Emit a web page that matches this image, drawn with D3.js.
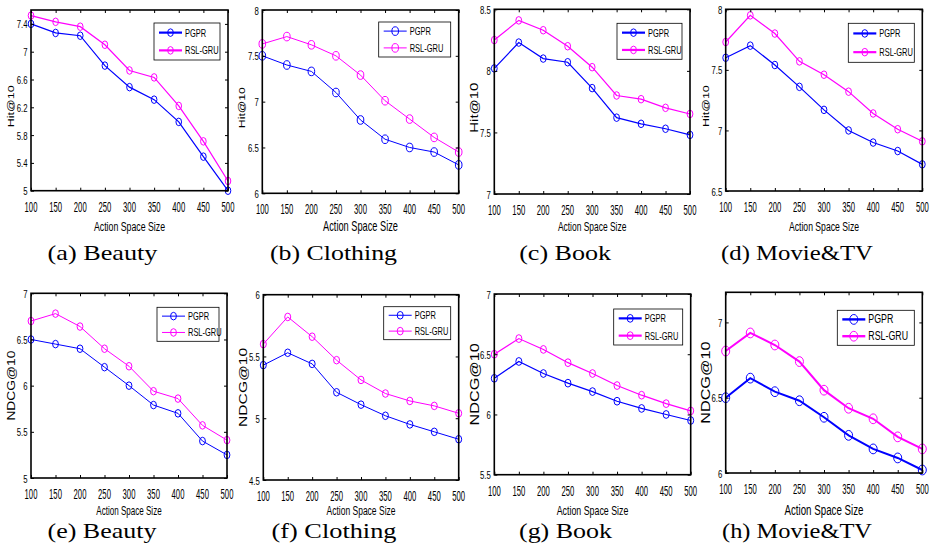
<!DOCTYPE html>
<html>
<head>
<meta charset="utf-8">
<script src="https://cdn.jsdelivr.net/npm/d3@7"></script>
<style>
  html, body { margin: 0; padding: 0; background: #fff; }
  svg { display: block; }
  text { font-family: "Liberation Sans", Arial, sans-serif; fill: #000; }
  .cap { font-family: "Liberation Serif", "DejaVu Serif", serif; }
</style>
</head>
<body>
<div id="chart"></div>
<script>
// ---- data ----
const sizes = [100, 150, 200, 250, 300, 350, 400, 450, 500];
const seriesNames = ['PGPR', 'RSL-GRU'];

const hitBeautyPGPR   = [7.40, 7.27, 7.23, 6.80, 6.49, 6.31, 5.99, 5.49, 5.00];
const hitBeautyRSL    = [7.52, 7.43, 7.36, 7.10, 6.73, 6.63, 6.22, 5.71, 5.14];
const hitClothingPGPR = [7.50, 7.40, 7.33, 7.10, 6.80, 6.59, 6.50, 6.45, 6.31];
const hitClothingRSL  = [7.63, 7.71, 7.62, 7.50, 7.29, 7.01, 6.81, 6.61, 6.45];
const hitBookPGPR     = [8.02, 8.23, 8.10, 8.07, 7.86, 7.62, 7.57, 7.53, 7.48];
const hitBookRSL      = [8.25, 8.41, 8.33, 8.20, 8.03, 7.80, 7.77, 7.70, 7.65];
const hitMoviePGPR    = [7.60, 7.70, 7.54, 7.36, 7.17, 7.00, 6.90, 6.83, 6.72];
const hitMovieRSL     = [7.73, 7.95, 7.80, 7.57, 7.46, 7.32, 7.14, 7.01, 6.91];

const ndcgBeautyPGPR   = [6.50, 6.45, 6.40, 6.20, 6.00, 5.79, 5.70, 5.40, 5.25];
const ndcgBeautyRSL    = [6.70, 6.78, 6.64, 6.40, 6.21, 5.94, 5.86, 5.57, 5.41];
const ndcgClothingPGPR = [5.43, 5.53, 5.44, 5.21, 5.11, 5.02, 4.95, 4.89, 4.83];
const ndcgClothingRSL  = [5.60, 5.82, 5.66, 5.47, 5.31, 5.20, 5.14, 5.10, 5.04];
const ndcgBookPGPR     = [6.30, 6.44, 6.34, 6.26, 6.19, 6.11, 6.05, 6.00, 5.95];
const ndcgBookRSL      = [6.50, 6.63, 6.54, 6.43, 6.34, 6.24, 6.16, 6.09, 6.03];
const ndcgMoviePGPR    = [6.50, 6.63, 6.54, 6.48, 6.37, 6.25, 6.16, 6.10, 6.02];
const ndcgMovieRSL     = [6.81, 6.93, 6.85, 6.74, 6.55, 6.43, 6.36, 6.24, 6.16];

// y limits and tick labels per panel
const yDomains = [[5, 7.6], [6, 8], [7, 8.5], [6.5, 8], [5, 7], [4.5, 6], [5.5, 7], [6, 7.2]];
const yTicks = [
  [5, 5.4, 5.8, 6.2, 6.6, 7, 7.4],
  [6, 6.5, 7, 7.5, 8],
  [7, 7.5, 8, 8.5],
  [6.5, 7, 7.5, 8],
  [5, 5.5, 6, 6.5, 7],
  [4.5, 5, 5.5, 6],
  [5.5, 6, 6.5, 7],
  [6, 6.5, 7]
];
const captions = ['(a)  Beauty', '(b)  Clothing', '(c)  Book', '(d)  Movie&TV',
                  '(e)  Beauty', '(f)  Clothing', '(g)  Book', '(h)  Movie&TV'];
const yLabels = ['Hit@10', 'Hit@10', 'Hit@10', 'Hit@10', 'NDCG@10', 'NDCG@10', 'NDCG@10', 'NDCG@10'];
const xLabel = 'Action Space Size';

const panelSeries = [
  [hitBeautyPGPR, hitBeautyRSL], [hitClothingPGPR, hitClothingRSL],
  [hitBookPGPR, hitBookRSL], [hitMoviePGPR, hitMovieRSL],
  [ndcgBeautyPGPR, ndcgBeautyRSL], [ndcgClothingPGPR, ndcgClothingRSL],
  [ndcgBookPGPR, ndcgBookRSL], [ndcgMoviePGPR, ndcgMovieRSL]
];

const boxes = [
  [31, 10, 228, 190.7], [262.3, 10, 458.7, 193.3], [494.3, 9.3, 690, 194], [725.7, 9.3, 922.3, 191],
  [31, 293.3, 227, 478], [263.3, 294.7, 458.7, 480], [494.3, 294, 690.7, 474.7], [725.7, 292.3, 922.3, 473]
];
// per panel: ylabel size, data line width, legend line width, marker rx/ry, legend box, xlabel size, caption width
const styles = [
  { yl: 12.5, lw: 1.2, llw: 2.2, rx: 2.8, ry: 3.8, legW: 66, legH: 37, legTop: 13, xl: 13.5, capW: 110 },
  { yl: 12.3, lw: 1.0, llw: 1.0, rx: 3.3, ry: 4.3, legW: 72, legH: 35, legTop: 12, xl: 14.2, capW: 127 },
  { yl: 15.0, lw: 1.2, llw: 2.2, rx: 2.9, ry: 3.8, legW: 65, legH: 36, legTop: 14, xl: 13, capW: 92 },
  { yl: 12.5, lw: 1.2, llw: 2.2, rx: 2.9, ry: 3.8, legW: 66, legH: 39, legTop: 14, xl: 13.3, capW: 152 },
  { yl: 13.8, lw: 1.0, llw: 1.0, rx: 2.9, ry: 3.8, legW: 62, legH: 34, legTop: 14, xl: 12.4, capW: 109 },
  { yl: 15.6, lw: 1.0, llw: 1.0, rx: 3.0, ry: 3.8, legW: 67, legH: 33, legTop: 12, xl: 13.1, capW: 125 },
  { yl: 16.2, lw: 1.2, llw: 2.2, rx: 3.0, ry: 3.9, legW: 69, legH: 36, legTop: 15, xl: 13.6, capW: 93 },
  { yl: 16.2, lw: 2.0, llw: 2.4, rx: 4.0, ry: 4.9, legW: 77, legH: 35, legTop: 18, xl: 15, capW: 150 }
];
const colors = ['#0000ff', '#ff00ff'];
const rowXLabelY = [231, 515];
const rowCaptionY = [260, 538];

const W = 931, H = 553;
const svg = d3.select('#chart').append('svg')
  .attr('width', W).attr('height', H)
  .attr('viewBox', [0, 0, W, H]);
svg.append('rect').attr('width', W).attr('height', H).attr('fill', '#fff');

// squeezed text helper (the original figure is compressed horizontally)
function sqText(g, x, y, str, size, sx, anchor) {
  return g.append('text')
    .attr('transform', `translate(${x},${y}) scale(${sx},1)`)
    .attr('font-size', size)
    .attr('text-anchor', anchor || 'middle')
    .text(str);
}

boxes.forEach((b, i) => {
  const [x0, y0, x1, y1] = b;
  const st = styles[i];
  const row = i < 4 ? 0 : 1;
  const g = svg.append('g');

  const x = d3.scaleLinear().domain([100, 500]).range([x0, x1]);
  const y = d3.scaleLinear().domain(yDomains[i]).range([y1, y0]);

  // data lines + markers
  panelSeries[i].forEach((vals, s) => {
    const pts = sizes.map((sz, k) => [sz, vals[k]]);
    g.append('path')
      .datum(pts)
      .attr('fill', 'none')
      .attr('stroke', colors[s])
      .attr('stroke-width', st.lw)
      .attr('d', d3.line().x(d => x(d[0])).y(d => y(d[1])));
    g.append('g').selectAll('ellipse')
      .data(pts).join('ellipse')
      .attr('cx', d => x(d[0])).attr('cy', d => y(d[1]))
      .attr('rx', st.rx).attr('ry', st.ry)
      .attr('fill', 'none').attr('stroke', colors[s]).attr('stroke-width', 1);
  });

  // axes: inward ticks on all four sides, box outline
  const tk = 3;
  const axB = d3.axisBottom(x).tickValues(sizes).tickSizeInner(-tk).tickSizeOuter(0).tickFormat('');
  const axT = d3.axisTop(x).tickValues(sizes).tickSizeInner(-tk).tickSizeOuter(0).tickFormat('');
  const axL = d3.axisLeft(y).tickValues(yTicks[i]).tickSizeInner(-tk).tickSizeOuter(0).tickFormat('');
  const axR = d3.axisRight(y).tickValues(yTicks[i]).tickSizeInner(-tk).tickSizeOuter(0).tickFormat('');
  [[axB, `translate(0,${y1})`], [axT, `translate(0,${y0})`],
   [axL, `translate(${x0},0)`], [axR, `translate(${x1},0)`]].forEach(([ax, tr]) => {
    const a = g.append('g').attr('transform', tr).call(ax);
    a.select('.domain').remove();
    a.selectAll('line').attr('stroke', '#000').attr('stroke-width', 1);
  });
  g.append('rect')
    .attr('x', x0).attr('y', y0).attr('width', x1 - x0).attr('height', y1 - y0)
    .attr('fill', 'none').attr('stroke', '#000').attr('stroke-width', 1.6);

  // tick labels
  sizes.forEach(v => sqText(g, x(v), y1 + 21, String(v), 14, 0.55, 'middle'));
  yTicks[i].forEach(v => sqText(g, x0 - 3.5, y(v) + 4.5, String(v), 10.5, 0.74, 'end'));

  // axis labels
  sqText(g, (x0 + x1) / 2, rowXLabelY[row], xLabel, st.xl, 0.65, 'middle');
  const cy = (y0 + y1) / 2 + (row === 0 ? 6 : 0);
  g.append('text')
    .attr('transform', `translate(${x0 - 20},${cy}) scale(0.74,1) rotate(-90)`)
    .attr('font-size', st.yl)
    .attr('text-anchor', 'middle')
    .attr('dy', '0.35em')
    .text(yLabels[i]);

  // legend
  const lx1 = x1 - 8, lx0 = lx1 - st.legW, ly0 = y0 + st.legTop;
  const leg = g.append('g');
  leg.append('rect')
    .attr('x', lx0).attr('y', ly0).attr('width', st.legW).attr('height', st.legH)
    .attr('fill', '#fff').attr('stroke', '#000').attr('stroke-width', 0.8);
  seriesNames.forEach((name, s) => {
    const ly = ly0 + st.legH * (s === 0 ? 0.26 : 0.74);
    leg.append('line')
      .attr('x1', lx0 + 5).attr('x2', lx0 + 28).attr('y1', ly).attr('y2', ly)
      .attr('stroke', colors[s]).attr('stroke-width', st.llw);
    leg.append('ellipse')
      .attr('cx', lx0 + 16.5).attr('cy', ly).attr('rx', st.rx).attr('ry', st.ry)
      .attr('fill', 'none').attr('stroke', colors[s]).attr('stroke-width', 1);
    sqText(leg, lx0 + 31, ly + 4, name, i === 7 ? 13 : 11, 0.68, 'start');
  });

  // subfigure caption (Computer Modern in the original is wider than Liberation Serif)
  g.append('text')
    .attr('class', 'cap')
    .attr('x', (x0 + x1) / 2 - 27)
    .attr('y', rowCaptionY[row])
    .attr('font-size', 21)
    .attr('text-anchor', 'middle')
    .attr('textLength', st.capW)
    .attr('lengthAdjust', 'spacingAndGlyphs')
    .text(captions[i]);
});
</script>
</body>
</html>
